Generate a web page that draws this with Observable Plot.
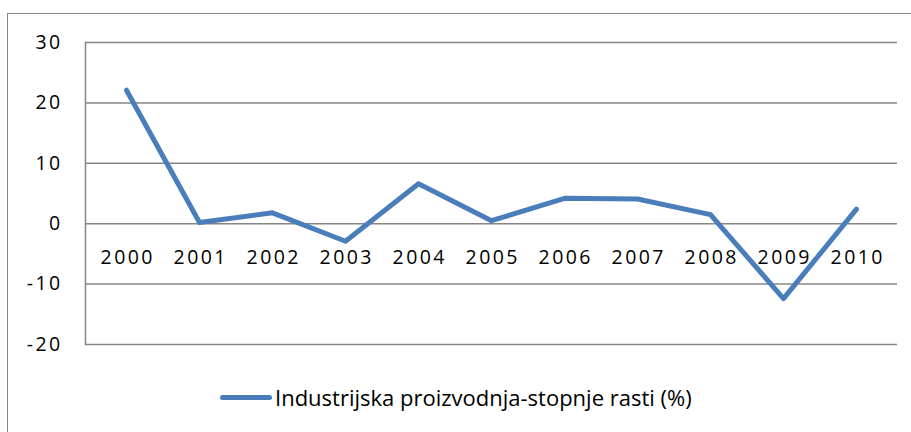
<!DOCTYPE html>
<html>
<head>
<meta charset="utf-8">
<script src="https://cdn.jsdelivr.net/npm/d3@7"></script>
<script src="https://cdn.jsdelivr.net/npm/@observablehq/plot@0.6"></script>
<style>
  html, body { margin: 0; padding: 0; background: #fff; }
  body { width: 911px; height: 432px; position: relative; overflow: hidden; font-family: "Open Sans", sans-serif; }
  #frame { position: absolute; left: 7px; top: 13px; width: 920px; height: 440px; border-left: 1.5px solid #888; border-top: 1.5px solid #888; box-sizing: border-box; pointer-events: none; }
  #chart { position: absolute; left: 0; top: 0; }
  #chart svg text { letter-spacing: 2.4px; }
  #legend { position: absolute; left: 220px; top: 382px; display: flex; align-items: center; font-size: 22px; color: #000; white-space: nowrap; }
  #legend .swatch { width: 52px; height: 5px; border-radius: 3px; background: #4a7ebb; margin-right: 3px; }
</style>
</head>
<body>
<div id="chart"></div>
<div id="frame"></div>
<div id="legend"><span class="swatch"></span><span id="legend-label"></span></div>
<script>
const years = ["2000","2001","2002","2003","2004","2005","2006","2007","2008","2009","2010"];
const growth = [22.1, 0.2, 1.8, -2.9, 6.6, 0.5, 4.2, 4.1, 1.5, -12.4, 2.4];
const yTicks = [-20, -10, 0, 10, 20, 30];
const seriesName = "Industrijska proizvodnja-stopnje rasti (%)";

const data = years.map((y, i) => ({year: y, value: growth[i]}));
document.getElementById("legend-label").textContent = seriesName;

const chart = Plot.plot({
  width: 911,
  height: 432,
  marginTop: 42,
  marginBottom: 88,
  marginLeft: 85,
  marginRight: 14,
  style: {fontFamily: "Open Sans, sans-serif", fontSize: "19.5px", color: "#000", background: "transparent"},
  x: {type: "point", domain: years, padding: 0.5, axis: null},
  y: {domain: [-20, 30]},
  marks: [
    Plot.ruleY(yTicks, {stroke: "#868686", strokeWidth: 1.5, strokeOpacity: 1}),
    Plot.frame({anchor: "left", stroke: "#868686", strokeWidth: 1.5}),
    Plot.axisY({ticks: yTicks, tickFormat: d => String(d), tickSize: 0, tickPadding: 23, fontSize: 19.5, fill: "#000", label: null}),
    Plot.text(years, {x: d => d, y: 0, dy: 34, dx: 1.2, text: d => d, fontSize: 19.5, fill: "#000", textAnchor: "middle", lineAnchor: "middle"}),
    Plot.line(data, {x: "year", y: "value", stroke: "#4a7ebb", strokeWidth: 5, strokeLinejoin: "round", strokeLinecap: "round"})
  ]
});
document.getElementById("chart").appendChild(chart);
</script>
</body>
</html>
